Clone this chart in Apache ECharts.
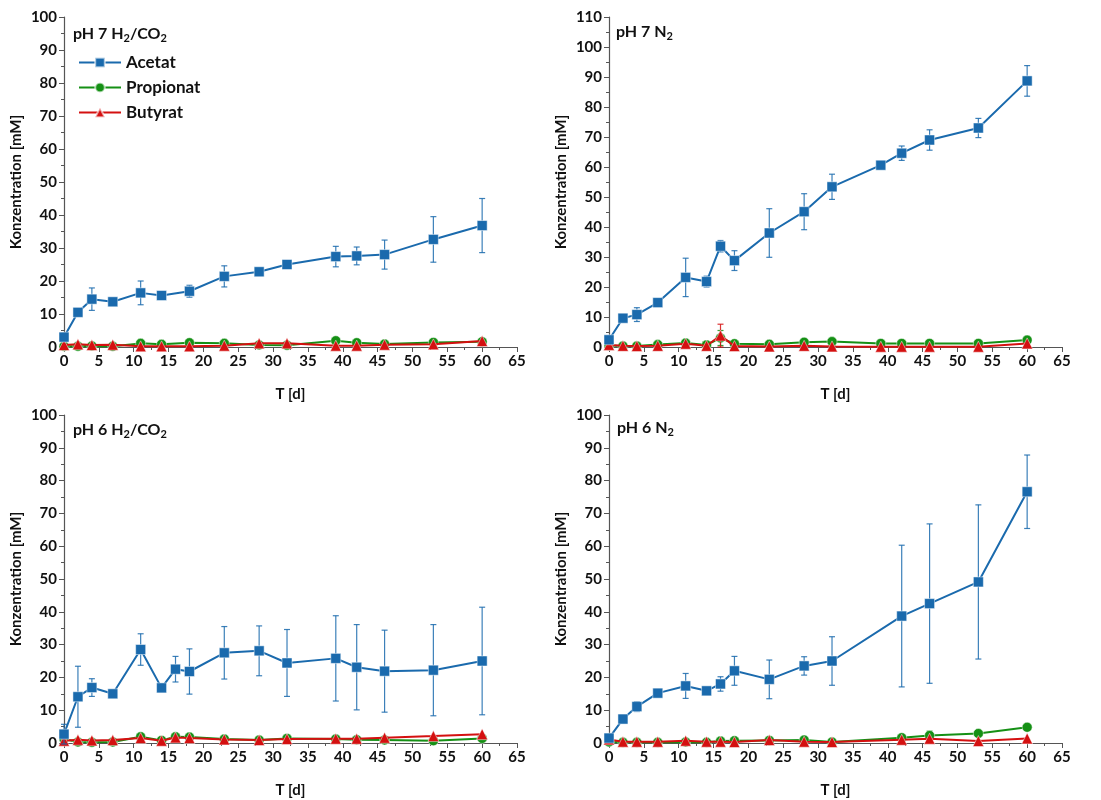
<!DOCTYPE html>
<html>
<head>
<meta charset="utf-8">
<script src="https://cdn.jsdelivr.net/npm/echarts@6/dist/echarts.min.js"></script>
<style>
html, body { margin: 0; padding: 0; background: #fff; }
#chart { width: 1101px; height: 800px; }
</style>
</head>
<body>
<div id="chart"></div>
<script>
// Tage je Versuch
var days7H = [0, 2, 4, 7, 11, 14, 18, 23, 28, 32, 39, 42, 46, 53, 60];
var days7N = [0, 2, 4, 7, 11, 14, 16, 18, 23, 28, 32, 39, 42, 46, 53, 60];
var days6H = [0, 2, 4, 7, 11, 14, 16, 18, 23, 28, 32, 39, 42, 46, 53, 60];
var days6N = [0, 2, 4, 7, 11, 14, 16, 18, 23, 28, 32, 42, 46, 53, 60];

// pH 7 H2/CO2
var acetat7H = [3.0, 10.5, 14.5, 13.7, 16.4, 15.6, 16.9, 21.4, 22.8, 25.0, 27.4, 27.6, 28.0, 32.6, 36.8];
var acetat7HErr = [0, 0, 3.4, 0, 3.6, 0, 1.8, 3.2, 0, 0, 3.1, 2.7, 4.4, 6.9, 8.2];
var propionat7H = [0.2, 0.2, 0.3, 0.2, 1.1, 0.8, 1.3, 1.1, 0.6, 0.5, 1.9, 1.3, 0.9, 1.4, 1.6];
var butyrat7H = [0.6, 0.8, 0.6, 0.7, 0.2, 0.2, 0.2, 0.4, 1.1, 1.1, 0.4, 0.4, 0.7, 0.8, 1.8];

// pH 7 N2
var acetat7N = [2.4, 9.6, 10.8, 14.8, 23.2, 21.8, 33.6, 28.8, 38.0, 45.1, 53.4, 60.6, 64.6, 69.0, 73.0, 88.7];
var acetat7NErr = [0, 0, 2.3, 0, 6.4, 1.8, 1.9, 3.3, 8.1, 6.0, 4.2, 1.2, 2.4, 3.4, 3.2, 5.1];
var propionat7N = [0.5, 0.3, 0.3, 0.8, 1.3, 0.7, 3.0, 1.1, 0.9, 1.6, 1.8, 1.2, 1.2, 1.2, 1.2, 2.3];
var propionat7NErr = [0, 0, 0, 0, 0, 0, 2.5, 0, 0, 0, 0, 0, 0, 0, 0, 0];
var butyrat7N = [0.7, 0.4, 0.3, 0.4, 1.1, 0.4, 3.8, 0.3, 0.2, 0.4, 0.2, 0.1, 0.1, 0.1, 0.1, 1.2];
var butyrat7NErr = [0, 0, 0, 0, 0, 0, 3.8, 0, 0, 0, 0, 0, 0, 0, 0, 0];

// pH 6 H2/CO2
var acetat6H = [2.7, 14.1, 16.9, 15.0, 28.5, 16.8, 22.5, 21.8, 27.5, 28.1, 24.4, 25.8, 23.1, 21.9, 22.2, 25.0];
var acetat6HErr = [3.0, 9.3, 2.7, 0, 4.8, 0.8, 3.9, 6.9, 8.0, 7.6, 10.2, 13.0, 13.0, 12.5, 13.9, 16.4];
var propionat6H = [1.2, 0.3, 0.2, 0.3, 1.9, 0.8, 1.9, 1.8, 1.2, 0.9, 1.4, 1.2, 1.0, 0.9, 0.7, 1.4];
var butyrat6H = [0.7, 1.0, 0.8, 0.9, 1.5, 0.7, 1.7, 1.5, 1.1, 0.9, 1.2, 1.3, 1.3, 1.6, 2.1, 2.7];

// pH 6 N2
var acetat6N = [1.5, 7.3, 11.1, 15.2, 17.4, 15.9, 18.0, 22.0, 19.4, 23.5, 25.0, 38.7, 42.5, 49.1, 76.6];
var acetat6NErr = [0, 1.0, 1.5, 0, 3.8, 0, 2.2, 4.4, 5.9, 2.8, 7.4, 21.6, 24.3, 23.5, 11.2];
var propionat6N = [0.3, 0.2, 0.2, 0.2, 0.3, 0.2, 0.6, 0.7, 0.8, 0.9, 0.3, 1.6, 2.3, 2.9, 4.8];
var propionat6NErr = [0, 0, 0, 0, 0, 0, 0, 0, 0, 0, 0, 0.8, 1.3, 0, 0];
var butyrat6N = [1.1, 0.4, 0.4, 0.4, 0.7, 0.4, 0.4, 0.3, 0.9, 0.4, 0.3, 1.0, 1.3, 0.6, 1.4];

var xTicks = [0, 65, 5];
var panelTitles = ['pH 7 H{s|2}/CO{s|2}', 'pH 7 N{s|2}', 'pH 6 H{s|2}/CO{s|2}', 'pH 6 N{s|2}'];
var yMax = [100, 110, 100, 100];

var FONT = 'Lato, "Open Sans", sans-serif';
var BLUE = '#1a6aad', GREEN = '#159015', RED = '#d41010';

var chart = echarts.init(document.getElementById('chart'));

function pairs(x, y) {
	return x.map(function (d, i) { return [d, y[i]]; });
}
function errPairs(x, y, e) {
	var res = [];
	for (var i = 0; i < x.length; i++) {
		if (e[i] > 0) res.push([x[i], y[i] - e[i], y[i] + e[i]]);
	}
	return res;
}
function renderErr(params, api) {
	var x = api.value(0);
	var p1 = api.coord([x, api.value(2)]);
	var p2 = api.coord([x, api.value(1)]);
	var c = api.visual('color');
	var st = { stroke: c, lineWidth: 1.2, opacity: 0.85 };
	var w = 3;
	return {
		type: 'group',
		children: [
			{ type: 'line', shape: { x1: p1[0], y1: p1[1], x2: p2[0], y2: p2[1] }, style: st },
			{ type: 'line', shape: { x1: p1[0] - w, y1: p1[1], x2: p1[0] + w, y2: p1[1] }, style: st },
			{ type: 'line', shape: { x1: p2[0] - w, y1: p2[1], x2: p2[0] + w, y2: p2[1] }, style: st }
		]
	};
}

var grids = [
	{ left: 64, right: 584, top: 17, bottom: 453 },
	{ left: 609, right: 39, top: 17, bottom: 453 },
	{ left: 64, right: 584, top: 415, bottom: 57 },
	{ left: 609, right: 39, top: 415, bottom: 57 }
];

var axisCommon = {
	axisLine: { show: true, lineStyle: { color: '#555', width: 1.2 } },
	axisTick: { show: true, length: 5, lineStyle: { color: '#555' } },
	minorTick: { show: true, splitNumber: 2, length: 3, lineStyle: { color: '#555' } },
	splitLine: { show: false },
	axisLabel: { color: '#111', fontSize: 15, fontWeight: 'bold', fontFamily: FONT, margin: 7 },
	nameTextStyle: { color: '#111', fontSize: 15, fontWeight: 'bold', fontFamily: FONT }
};

var xAxes = [], yAxes = [];
grids.forEach(function (g, i) {
	xAxes.push(Object.assign({}, axisCommon, {
		type: 'value', gridIndex: i, min: xTicks[0], max: xTicks[1], interval: xTicks[2],
		name: 'T [d]', nameLocation: 'middle', nameGap: 40
	}));
	yAxes.push(Object.assign({}, axisCommon, {
		type: 'value', gridIndex: i, min: 0, max: yMax[i], interval: 10,
		name: 'Konzentration [mM]', nameLocation: 'middle', nameGap: 40
	}));
});

var panels = [
	{ x: days7H, a: acetat7H, ae: acetat7HErr, p: propionat7H, pe: null, b: butyrat7H, be: null },
	{ x: days7N, a: acetat7N, ae: acetat7NErr, p: propionat7N, pe: propionat7NErr, b: butyrat7N, be: butyrat7NErr },
	{ x: days6H, a: acetat6H, ae: acetat6HErr, p: propionat6H, pe: null, b: butyrat6H, be: null },
	{ x: days6N, a: acetat6N, ae: acetat6NErr, p: propionat6N, pe: propionat6NErr, b: butyrat6N, be: null }
];

var series = [];
panels.forEach(function (pn, i) {
	var lines = [
		{ name: 'Propionat', y: pn.p, e: pn.pe, color: GREEN, symbol: 'circle', size: 10 },
		{ name: 'Butyrat', y: pn.b, e: pn.be, color: RED, symbol: 'triangle', size: 11 },
		{ name: 'Acetat', y: pn.a, e: pn.ae, color: BLUE, symbol: 'rect', size: 10 }
	];
	lines.forEach(function (l, k) {
		if (l.e) {
			series.push({
				type: 'custom', name: l.name + ' err', xAxisIndex: i, yAxisIndex: i,
				renderItem: renderErr, itemStyle: { color: l.color }, z: 2 + k * 2,
				data: errPairs(pn.x, l.y, l.e), silent: true
			});
		}
		series.push({
			type: 'line', name: l.name, xAxisIndex: i, yAxisIndex: i,
			data: pairs(pn.x, l.y), symbol: l.symbol, symbolSize: l.size, z: 3 + k * 2,
			lineStyle: { color: l.color, width: 2 },
			itemStyle: { color: l.color, borderColor: 'rgba(255,255,255,0.6)', borderWidth: 0.8 },
			emphasis: { disabled: true }
		});
	});
});

var titlePos = [[73, 24], [616, 22], [73, 420], [617, 418]];
var titles = panelTitles.map(function (t, i) {
	return {
		text: t, left: titlePos[i][0], top: titlePos[i][1], padding: 0,
		textStyle: {
			fontFamily: FONT, fontSize: 16, fontWeight: 'bold', color: '#111', lineHeight: 20,
			rich: { s: { fontFamily: FONT, fontSize: 11, fontWeight: 'bold', color: '#111', lineHeight: 11, verticalAlign: 'bottom' } }
		}
	};
});

var option = {
	animation: false,
	title: titles,
	legend: {
		data: ['Acetat', 'Propionat', 'Butyrat'],
		orient: 'vertical', left: 73, top: 49, itemWidth: 42, itemHeight: 12, itemGap: 8,
		textStyle: { fontFamily: FONT, fontSize: 17, fontWeight: 'bold', color: '#111' },
		selectedMode: false
	},
	grid: grids,
	xAxis: xAxes,
	yAxis: yAxes,
	series: series
};
chart.setOption(option);
</script>
</body>
</html>
